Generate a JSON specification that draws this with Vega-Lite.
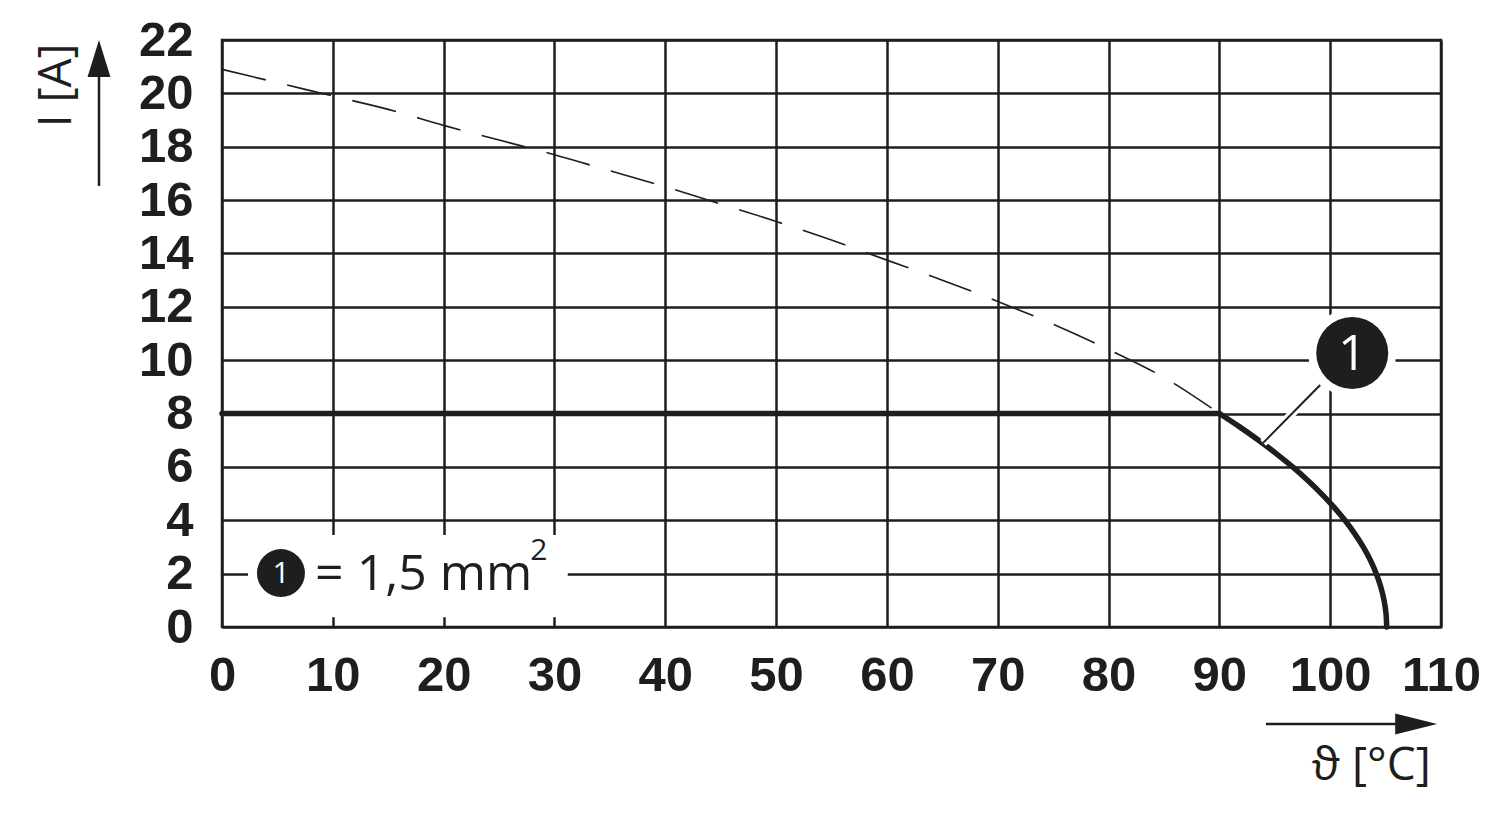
{
  "$schema": "https://vega.github.io/schema/vega-lite/v6.json",
  "autosize": {"type": "none"},
  "width": 1219,
  "height": 587,
  "padding": {"left": 222, "top": 40, "right": 59, "bottom": 194},
  "background": "white",
  "config": {
    "view": {"stroke": "#1e1e1e", "strokeWidth": 2.5},
    "axis": {
      "domain": false, "ticks": false, "tickSize": 0,
      "grid": true, "gridColor": "#1e1e1e", "gridWidth": 2.5, "gridOpacity": 1,
      "labelFont": "Liberation Sans", "labelFontWeight": "bold", "labelFontSize": 49,
      "labelColor": "#1e1e1e", "title": null
    }
  },
  "datasets": {
    "dashed": [
      {"t": 0, "i": 20.9}, {"t": 5, "i": 20.4}, {"t": 10, "i": 19.9}, {"t": 15, "i": 19.4},
      {"t": 20, "i": 18.8}, {"t": 25, "i": 18.25}, {"t": 30, "i": 17.7}, {"t": 35, "i": 17.1},
      {"t": 40, "i": 16.5}, {"t": 45, "i": 15.85}, {"t": 50, "i": 15.2}, {"t": 55, "i": 14.5},
      {"t": 60, "i": 13.75}, {"t": 65, "i": 13.0}, {"t": 70, "i": 12.2}, {"t": 75, "i": 11.35},
      {"t": 80, "i": 10.4}, {"t": 85, "i": 9.35}, {"t": 90, "i": 8.0}
    ],
    "solid": [
      {"seg": "flat", "t": 0, "i": 8}, {"seg": "flat", "t": 90, "i": 8},
      {"seg": "curve", "t": 90, "i": 8}, {"seg": "curve", "t": 91.83, "i": 7.5},
      {"seg": "curve", "t": 93.54, "i": 7}, {"seg": "curve", "t": 95.13, "i": 6.5},
      {"seg": "curve", "t": 96.61, "i": 6}, {"seg": "curve", "t": 97.96, "i": 5.5},
      {"seg": "curve", "t": 99.2, "i": 5}, {"seg": "curve", "t": 100.32, "i": 4.5},
      {"seg": "curve", "t": 101.33, "i": 4}, {"seg": "curve", "t": 102.21, "i": 3.5},
      {"seg": "curve", "t": 102.98, "i": 3}, {"seg": "curve", "t": 103.63, "i": 2.5},
      {"seg": "curve", "t": 104.16, "i": 2}, {"seg": "curve", "t": 104.57, "i": 1.5},
      {"seg": "curve", "t": 104.86, "i": 1}, {"seg": "curve", "t": 105.04, "i": 0.5},
      {"seg": "curve", "t": 105.1, "i": 0}
    ],
    "legendBox": [{"x1": 2.35, "x2": 31.2, "y1": 0.37, "y2": 3.45}],
    "leader": [{"t": 99.1, "i": 9.07}, {"t": 93.95, "i": 6.9}],
    "callout": [{"t": 101.99, "i": 10.27, "label": "1"}],
    "legendMark": [{"t": 5.32, "i": 2.02, "label": "1"}],
    "legendText": [{"t": 8.4, "i": 1.95, "label": "= 1,5 mm"}],
    "legendSup": [{"t": 28.6, "i": 2.85, "label": "2"}],
    "yArrowLine": [{"x": -11.1, "y1": 16.53, "y2": 20.8}],
    "yArrowHead": [{"x": -11.1, "y": 21.31}],
    "xArrowLine": [{"y": -3.64, "x1": 94.2, "x2": 106.0}],
    "xArrowHead": [{"x": 107.76, "y": -3.64}],
    "yTitle": [{"x": -14.9, "y": 20.3, "label": "I [A]"}],
    "xTitle": [{"x": 103.7, "y": -5.21, "label": "ϑ [°C]"}]
  },
  "layer": [
    {
      "data": {"name": "dashed"},
      "mark": {"type": "line", "color": "#1e1e1e", "strokeWidth": 1.6, "strokeDash": [45, 22], "interpolate": "monotone"},
      "encoding": {
        "x": {"field": "t", "type": "quantitative", "scale": {"domain": [0, 110], "nice": false, "zero": false},
              "axis": {"values": [0, 10, 20, 30, 40, 50, 60, 70, 80, 90, 100, 110], "labelPadding": 48, "labelBaseline": "middle", "labelFlush": false}},
        "y": {"field": "i", "type": "quantitative", "scale": {"domain": [0, 22], "nice": false, "zero": false},
              "axis": {"values": [0, 2, 4, 6, 8, 10, 12, 14, 16, 18, 20, 22], "labelPadding": 29, "labelFlush": false}}
      }
    },
    {
      "data": {"name": "solid"},
      "mark": {"type": "line", "color": "#1e1e1e", "strokeWidth": 5.5, "strokeCap": "round", "strokeJoin": "round", "interpolate": "catmull-rom"},
      "encoding": {
        "x": {"field": "t", "type": "quantitative"},
        "y": {"field": "i", "type": "quantitative"},
        "detail": {"field": "seg", "type": "nominal"}
      }
    },
    {
      "data": {"name": "legendBox"},
      "mark": {"type": "rect", "color": "white"},
      "encoding": {
        "x": {"field": "x1", "type": "quantitative"}, "x2": {"field": "x2"},
        "y": {"field": "y1", "type": "quantitative"}, "y2": {"field": "y2"}
      }
    },
    {
      "data": {"name": "leader"},
      "mark": {"type": "line", "color": "white", "strokeWidth": 8},
      "encoding": {"x": {"field": "t", "type": "quantitative"}, "y": {"field": "i", "type": "quantitative"}}
    },
    {
      "data": {"name": "leader"},
      "mark": {"type": "line", "color": "#1e1e1e", "strokeWidth": 2},
      "encoding": {"x": {"field": "t", "type": "quantitative"}, "y": {"field": "i", "type": "quantitative"}}
    },
    {
      "data": {"name": "callout"},
      "mark": {"type": "point", "shape": "circle", "filled": true, "color": "white", "opacity": 1, "size": 7744},
      "encoding": {"x": {"field": "t", "type": "quantitative"}, "y": {"field": "i", "type": "quantitative"}}
    },
    {
      "data": {"name": "callout"},
      "mark": {"type": "point", "shape": "circle", "filled": true, "color": "#1e1e1e", "opacity": 1, "size": 5184},
      "encoding": {"x": {"field": "t", "type": "quantitative"}, "y": {"field": "i", "type": "quantitative"}}
    },
    {
      "data": {"name": "callout"},
      "mark": {"type": "text", "color": "white", "font": "Open Sans", "fontSize": 50, "baseline": "middle", "align": "center", "dy": 2},
      "encoding": {"x": {"field": "t", "type": "quantitative"}, "y": {"field": "i", "type": "quantitative"}, "text": {"field": "label"}}
    },
    {
      "data": {"name": "legendMark"},
      "mark": {"type": "point", "shape": "circle", "filled": true, "color": "#1e1e1e", "opacity": 1, "size": 2304},
      "encoding": {"x": {"field": "t", "type": "quantitative"}, "y": {"field": "i", "type": "quantitative"}}
    },
    {
      "data": {"name": "legendMark"},
      "mark": {"type": "text", "color": "white", "font": "Open Sans", "fontSize": 30, "baseline": "middle", "align": "center", "dy": 1},
      "encoding": {"x": {"field": "t", "type": "quantitative"}, "y": {"field": "i", "type": "quantitative"}, "text": {"field": "label"}}
    },
    {
      "data": {"name": "legendText"},
      "mark": {"type": "text", "color": "#1e1e1e", "font": "Open Sans", "fontSize": 50, "baseline": "middle", "align": "left"},
      "encoding": {"x": {"field": "t", "type": "quantitative"}, "y": {"field": "i", "type": "quantitative"}, "text": {"field": "label"}}
    },
    {
      "data": {"name": "legendSup"},
      "mark": {"type": "text", "color": "#1e1e1e", "font": "Open Sans", "fontSize": 30, "baseline": "middle", "align": "center"},
      "encoding": {"x": {"field": "t", "type": "quantitative"}, "y": {"field": "i", "type": "quantitative"}, "text": {"field": "label"}}
    },
    {
      "data": {"name": "yArrowLine"},
      "mark": {"type": "rule", "color": "#1e1e1e", "strokeWidth": 2.5},
      "encoding": {"x": {"field": "x", "type": "quantitative"}, "y": {"field": "y1", "type": "quantitative"}, "y2": {"field": "y2"}}
    },
    {
      "data": {"name": "yArrowHead"},
      "mark": {"type": "point", "shape": "M0,-1L0.62,1L-0.62,1Z", "filled": true, "color": "#1e1e1e", "opacity": 1, "size": 1369},
      "encoding": {"x": {"field": "x", "type": "quantitative"}, "y": {"field": "y", "type": "quantitative"}}
    },
    {
      "data": {"name": "xArrowLine"},
      "mark": {"type": "rule", "color": "#1e1e1e", "strokeWidth": 2.5},
      "encoding": {"y": {"field": "y", "type": "quantitative"}, "x": {"field": "x1", "type": "quantitative"}, "x2": {"field": "x2"}}
    },
    {
      "data": {"name": "xArrowHead"},
      "mark": {"type": "point", "shape": "M1,0L-1,0.5L-1,-0.5Z", "filled": true, "color": "#1e1e1e", "opacity": 1, "size": 1764},
      "encoding": {"x": {"field": "x", "type": "quantitative"}, "y": {"field": "y", "type": "quantitative"}}
    },
    {
      "data": {"name": "yTitle"},
      "mark": {"type": "text", "color": "#1e1e1e", "font": "Open Sans", "fontSize": 46, "angle": 270, "baseline": "middle", "align": "center"},
      "encoding": {"x": {"field": "x", "type": "quantitative"}, "y": {"field": "y", "type": "quantitative"}, "text": {"field": "label"}}
    },
    {
      "data": {"name": "xTitle"},
      "mark": {"type": "text", "color": "#1e1e1e", "font": "Open Sans", "fontSize": 46, "baseline": "middle", "align": "center"},
      "encoding": {"x": {"field": "x", "type": "quantitative"}, "y": {"field": "y", "type": "quantitative"}, "text": {"field": "label"}}
    }
  ]
}
